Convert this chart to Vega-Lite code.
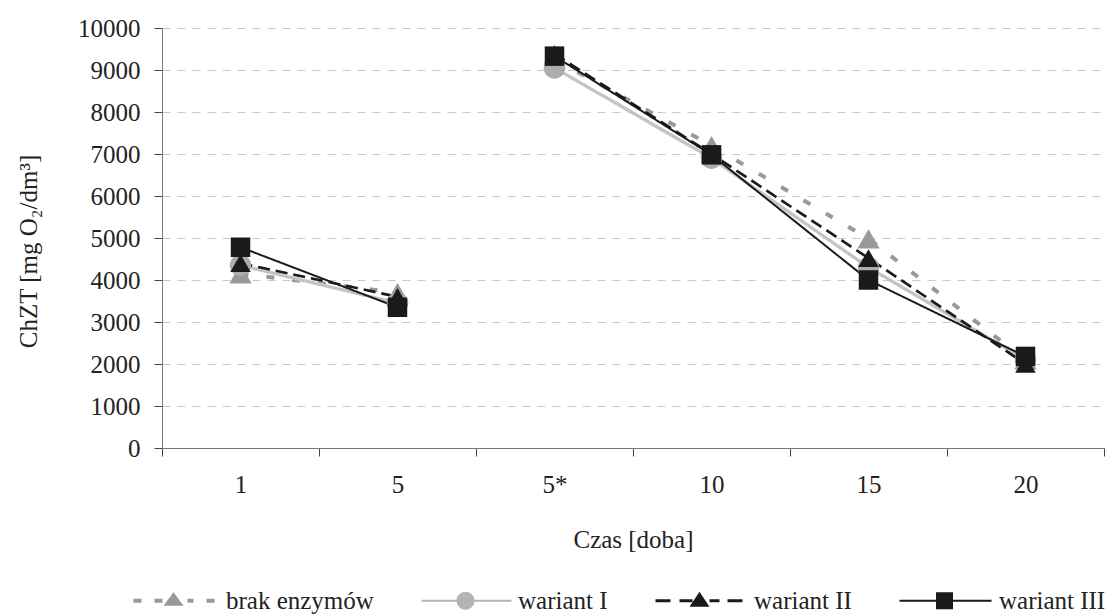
{
  "$schema": "https://vega.github.io/schema/vega-lite/v6.json",
  "width": 942,
  "height": 420,
  "autosize": "none",
  "padding": {"left": 162, "top": 28, "right": 10, "bottom": 168},
  "background": "white",
  "config": {
    "font": "Liberation Serif",
    "view": {"stroke": null},
    "axis": {
      "labelFont": "Liberation Serif",
      "titleFont": "Liberation Serif",
      "labelFontSize": 25,
      "titleFontSize": 25,
      "labelColor": "#222222",
      "titleColor": "#222222",
      "titleFontWeight": "normal",
      "domainColor": "#777777",
      "tickColor": "#444444",
      "tickSize": 8
    }
  },
  "data": {
    "values": [
      {"czas": "1", "seria": "brak enzymów", "seg": "a", "v": 4150},
      {"czas": "5", "seria": "brak enzymów", "seg": "a", "v": 3700},
      {"czas": "5*", "seria": "brak enzymów", "seg": "b", "v": 9250},
      {"czas": "10", "seria": "brak enzymów", "seg": "b", "v": 7200},
      {"czas": "15", "seria": "brak enzymów", "seg": "b", "v": 4980},
      {"czas": "20", "seria": "brak enzymów", "seg": "b", "v": 2100},
      {"czas": "1", "seria": "wariant I", "seg": "a", "v": 4350},
      {"czas": "5", "seria": "wariant I", "seg": "a", "v": 3450},
      {"czas": "5*", "seria": "wariant I", "seg": "b", "v": 9050},
      {"czas": "10", "seria": "wariant I", "seg": "b", "v": 6900},
      {"czas": "15", "seria": "wariant I", "seg": "b", "v": 4300},
      {"czas": "20", "seria": "wariant I", "seg": "b", "v": 2100},
      {"czas": "1", "seria": "wariant II", "seg": "a", "v": 4400},
      {"czas": "5", "seria": "wariant II", "seg": "a", "v": 3600},
      {"czas": "5*", "seria": "wariant II", "seg": "b", "v": 9380},
      {"czas": "10", "seria": "wariant II", "seg": "b", "v": 7000},
      {"czas": "15", "seria": "wariant II", "seg": "b", "v": 4520},
      {"czas": "20", "seria": "wariant II", "seg": "b", "v": 2000},
      {"czas": "1", "seria": "wariant III", "seg": "a", "v": 4780},
      {"czas": "5", "seria": "wariant III", "seg": "a", "v": 3350},
      {"czas": "5*", "seria": "wariant III", "seg": "b", "v": 9330},
      {"czas": "10", "seria": "wariant III", "seg": "b", "v": 6980},
      {"czas": "15", "seria": "wariant III", "seg": "b", "v": 4000},
      {"czas": "20", "seria": "wariant III", "seg": "b", "v": 2180}
    ]
  },
  "encoding": {
    "x": {
      "field": "czas",
      "type": "ordinal",
      "sort": ["1", "5", "5*", "10", "15", "20"],
      "scale": {"type": "band", "paddingInner": 0, "paddingOuter": 0},
      "axis": {
        "title": "Czas [doba]",
        "tickBand": "extent",
        "labelAngle": 0,
        "labelPadding": 16,
        "titlePadding": 30,
        "grid": false
      }
    },
    "y": {
      "field": "v",
      "type": "quantitative",
      "scale": {"domain": [0, 10000], "nice": false, "zero": true},
      "axis": {
        "title": "ChZT [mg O₂/dm³]",
        "values": [0, 1000, 2000, 3000, 4000, 5000, 6000, 7000, 8000, 9000, 10000],
        "format": "d",
        "labelPadding": 14,
        "titlePadding": 36,
        "titleY": 223,
        "grid": true,
        "gridColor": "#c8c8c8",
        "gridDash": [8, 7],
        "gridWidth": 1
      }
    }
  },
  "layer": [
    {
      "mark": {"type": "line"},
      "encoding": {
        "detail": {"field": "seg", "type": "nominal"},
        "color": {
          "field": "seria", "type": "nominal",
          "scale": {"domain": ["brak enzymów", "wariant I", "wariant II", "wariant III"], "range": ["#999999", "#c4c4c4", "#1a1a1a", "#1a1a1a"]},
          "legend": null
        },
        "strokeDash": {
          "field": "seria", "type": "nominal",
          "scale": {"domain": ["brak enzymów", "wariant I", "wariant II", "wariant III"], "range": [[8, 18], [1, 0], [12, 6], [1, 0]]},
          "legend": null
        },
        "strokeWidth": {
          "field": "seria", "type": "ordinal",
          "scale": {"domain": ["brak enzymów", "wariant I", "wariant II", "wariant III"], "range": [4, 2, 2.5, 1.6]},
          "legend": null
        }
      }
    },
    {
      "mark": {"type": "point", "filled": true, "opacity": 1, "strokeWidth": 0},
      "encoding": {
        "color": {
          "field": "seria", "type": "nominal",
          "scale": {"domain": ["brak enzymów", "wariant I", "wariant II", "wariant III"], "range": ["#999999", "#acacac", "#1a1a1a", "#1a1a1a"]},
          "legend": null
        },
        "shape": {
          "field": "seria", "type": "nominal",
          "scale": {"domain": ["brak enzymów", "wariant I", "wariant II", "wariant III"], "range": ["triangle-up", "circle", "triangle-up", "square"]},
          "legend": null
        },
        "size": {
          "field": "seria", "type": "ordinal",
          "scale": {"domain": ["brak enzymów", "wariant I", "wariant II", "wariant III"], "range": [500, 380, 320, 289]},
          "legend": null
        }
      }
    },
    {
      "transform": [{"filter": "datum.v < 0"}],
      "mark": {"type": "point", "filled": true, "opacity": 1, "strokeWidth": 0, "size": 400},
      "encoding": {
        "color": {
          "field": "seria", "type": "nominal",
          "scale": {"domain": ["brak enzymów", "wariant I", "wariant II", "wariant III"], "range": ["#999999", "#b4b4b4", "#1a1a1a", "#1a1a1a"]},
          "legend": {
            "orient": "none",
            "legendX": 0,
            "legendY": 560,
            "direction": "horizontal",
            "title": null,
            "labelFont": "Liberation Serif",
            "labelFontSize": 25,
            "labelColor": "#222222",
            "symbolSize": 400,
            "symbolOpacity": 1,
            "symbolStrokeWidth": 0,
            "labelOffset": 39,
            "columnPadding": 47
          }
        },
        "shape": {
          "field": "seria", "type": "nominal",
          "scale": {
            "domain": ["brak enzymów", "wariant I", "wariant II", "wariant III"],
            "range": [
              "M-4.1,-0.2H-3.3V0.2H-4.1Z M-2,-0.2H-1.2V0.2H-2Z M1.3,-0.2H1.9V0.2H1.3Z M3.2,-0.2H4V0.2H3.2Z M-0.1,-0.85L0.9,0.5H-1.1Z",
              "M-4.5,-0.1H-1V0.1H-4.5Z M0.8,-0.1H4.5V0.1H0.8Z M-1,0A0.9,0.9 0 1,0 0.8,0A0.9,0.9 0 1,0 -1,0Z",
              "M-4.7,-0.15H-3.2V0.15H-4.7Z M-2.3,-0.15H-1V0.15H-2.3Z M0.7,-0.15H1.7V0.15H0.7Z M2.5,-0.15H4V0.15H2.5Z M-0.3,-0.9L0.7,0.6H-1.3Z",
              "M-4.8,-0.1H-1.15V0.1H-4.8Z M0.55,-0.1H4.4V0.1H0.55Z M-1.15,-0.85H0.55V0.85H-1.15Z"
            ]
          },
          "legend": {
            "orient": "none",
            "legendX": 0,
            "legendY": 560,
            "direction": "horizontal",
            "title": null
          }
        }
      }
    }
  ],
  "resolve": {"scale": {"color": "independent", "shape": "independent", "size": "independent"}}
}
